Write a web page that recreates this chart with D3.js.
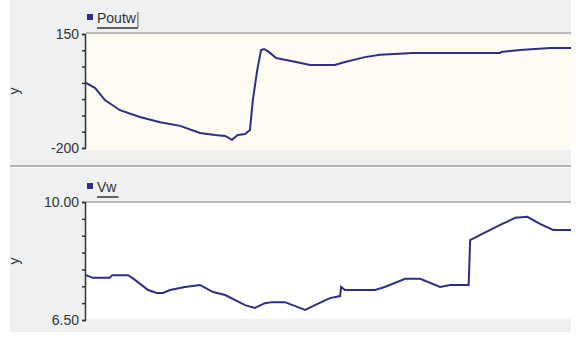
<!DOCTYPE html>
<html>
<head>
<meta charset="utf-8">
<script src="https://cdn.jsdelivr.net/npm/d3@7"></script>
<style>
  body { margin: 0; background: #fff; }
  svg { display: block; }
  text { font-family: "Liberation Sans Narrow", "Arial Narrow", "Liberation Sans", sans-serif; fill: #333; }
</style>
</head>
<body>
<script>
  // time axis is hidden in the chart; t runs 0..100 across the plot
  var poutwT = [0, 1.9, 3.9, 7.0, 11.1, 15.3, 19.4, 23.5, 26.6, 28.7, 30.1, 31.3, 32.8, 33.8, 34.4, 35.3, 36.1, 36.7, 37.7, 39.2, 43.3, 46.2, 51.3, 53.4, 57.5, 60.6, 67.4, 85.4, 85.6, 89.5, 95.7, 100];
  var poutwV = [0, -16, -53, -84, -105, -121, -132, -154, -160, -163, -175, -160, -157, -145, -53, 39, 101, 104, 95, 76, 64, 55, 55, 64, 79, 86, 92, 92, 95, 101, 107, 107];

  var vwT = [0, 1.4, 4.9, 5.4, 8.7, 10.1, 12.8, 14.6, 15.9, 17.3, 20.4, 23.5, 26.2, 28.7, 32.8, 34.8, 36.9, 38.4, 41.0, 44.1, 45.2, 47.2, 50.3, 52.4, 52.6, 53.4, 59.6, 61.6, 65.8, 68.9, 73.0, 75.1, 78.9, 79.2, 81.2, 85.4, 88.5, 91.0, 93.6, 96.3, 100];
  var vwV = [7.83, 7.75, 7.75, 7.83, 7.83, 7.69, 7.39, 7.30, 7.30, 7.39, 7.48, 7.54, 7.33, 7.24, 6.94, 6.86, 7.00, 7.03, 7.03, 6.86, 6.80, 6.94, 7.15, 7.21, 7.48, 7.39, 7.39, 7.48, 7.72, 7.72, 7.48, 7.54, 7.54, 8.87, 9.02, 9.32, 9.53, 9.56, 9.35, 9.17, 9.17];

  var poutwTicks = [-200, -150, -100, -50, 0, 50, 100, 150];
  var vwTicks = [6.5, 7.0, 7.5, 8.0, 8.5, 9.0, 9.5, 10.0];

  var w = 577, h = 342;
  var lineColor = "#2e2e86";

  var svg = d3.select("body").append("svg")
      .attr("width", w)
      .attr("height", h);

  var x = d3.scaleLinear().domain([0, 100]).range([86, 571]);

  var panels = [
    { name: "Poutw", t: poutwT, v: poutwV, ticks: poutwTicks, domain: [-200, 150],
      fmt: function(d) { return String(d); },
      top: 0, bottom: 165, plotTop: 33, plotBottom: 150, yr: [148, 34], bg: "#fdfbf2", tab: true },
    { name: "Vw", t: vwT, v: vwV, ticks: vwTicks, domain: [6.5, 10],
      fmt: function(d) { return d.toFixed(2); },
      top: 168, bottom: 332, plotTop: 202, plotBottom: 319, yr: [320, 202], bg: "#ffffff", tab: false }
  ];

  panels.forEach(function(p) {
    var g = svg.append("g");
    var y = d3.scaleLinear().domain(p.domain).range(p.yr);

    g.append("rect")
      .attr("x", 10).attr("y", p.top)
      .attr("width", 561).attr("height", p.bottom - p.top)
      .attr("fill", "#eef0f2");

    g.append("rect")
      .attr("x", 86).attr("y", p.plotTop)
      .attr("width", 485).attr("height", p.plotBottom - p.plotTop)
      .attr("fill", p.bg);

    g.append("line")
      .attr("x1", 86).attr("x2", 571)
      .attr("y1", p.plotTop).attr("y2", p.plotTop)
      .attr("stroke", "#b9b9b9").attr("stroke-width", 2);

    // legend
    var lx = 87, ly = p.plotTop - 19;
    g.append("rect")
      .attr("x", lx).attr("y", ly)
      .attr("width", 6).attr("height", 6)
      .attr("fill", lineColor);
    var label = g.append("text")
      .attr("x", lx + 10).attr("y", ly + 9)
      .attr("font-size", 14)
      .text(p.name);
    var tw = label.node().getComputedTextLength();
    g.append("line")
      .attr("x1", lx + 10).attr("x2", lx + 12 + tw)
      .attr("y1", ly + 14).attr("y2", ly + 14)
      .attr("stroke", "#333").attr("stroke-width", 1.5);
    if (p.tab) {
      g.append("line")
        .attr("x1", lx + 12 + tw).attr("x2", lx + 12 + tw)
        .attr("y1", ly - 2).attr("y2", ly + 14)
        .attr("stroke", "#555").attr("stroke-width", 1);
    }

    // y axis
    var axis = d3.axisLeft(y)
      .tickValues(p.ticks)
      .tickSize(3)
      .tickFormat(function(d) {
        return (d === p.domain[0] || d === p.domain[1]) ? p.fmt(d) : "";
      });
    var ag = g.append("g")
      .attr("transform", "translate(85,0)")
      .call(axis);
    ag.select(".domain").attr("stroke", "#333").attr("stroke-width", 1.5);
    ag.selectAll(".tick line").attr("stroke", "#333").attr("stroke-width", 1.5);
    ag.selectAll(".tick text")
      .attr("x", -6)
      .attr("font-size", 14)
      .attr("fill", "#333")
      .style("font-family", "'Liberation Sans Narrow', 'Arial Narrow', sans-serif");

    g.append("text")
      .attr("transform", "translate(19," + ((p.yr[0] + p.yr[1]) / 2) + ") rotate(-90)")
      .attr("text-anchor", "middle")
      .attr("font-size", 14)
      .text("y");

    var line = d3.line()
      .x(function(d) { return x(d[0]); })
      .y(function(d) { return y(d[1]); });

    g.append("path")
      .datum(d3.zip(p.t, p.v))
      .attr("d", line)
      .attr("fill", "none")
      .attr("stroke", lineColor)
      .attr("stroke-width", 2);
  });

  // separator between panels
  svg.append("line")
    .attr("x1", 10).attr("x2", 571)
    .attr("y1", 166).attr("y2", 166)
    .attr("stroke", "#b3b3b3").attr("stroke-width", 2);
</script>
</body>
</html>
